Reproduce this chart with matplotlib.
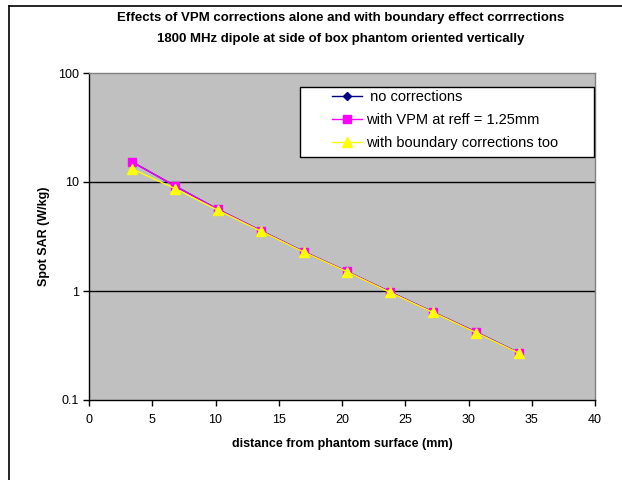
import matplotlib
matplotlib.use("Agg")
import matplotlib.pyplot as plt
from matplotlib.lines import Line2D
from matplotlib.patches import Rectangle
from matplotlib.ticker import FixedLocator, NullLocator, FuncFormatter

plt.rcParams['font.family'] = ['Liberation Sans', 'DejaVu Sans']

# distance from phantom surface (mm)
distance = [3.4, 6.8, 10.2, 13.6, 17.0, 20.4, 23.8, 27.2, 30.6, 34.0]
# spot SAR (W/kg)
sar_none = [15.3, 9.2, 5.6, 3.57, 2.29, 1.51, 0.98, 0.64, 0.42, 0.27]
sar_vpm = [15.3, 9.2, 5.6, 3.57, 2.29, 1.51, 0.98, 0.64, 0.42, 0.27]
sar_boundary = [13.2, 8.7, 5.5, 3.53, 2.27, 1.50, 0.97, 0.635, 0.415, 0.268]

series_labels = [" no corrections", "with VPM at reff = 1.25mm",
                 "with boundary corrections too"]
x_ticks = [0, 5, 10, 15, 20, 25, 30, 35, 40]
y_ticks = [0.1, 1, 10, 100]

W, H = 622, 480
fig = plt.figure(figsize=(W / 100, H / 100), dpi=100)
fig.patch.set_facecolor("white")


def fx(px):
    return px / W


def fy(py):
    return 1 - py / H


# outer frame (left and top edges)
fig.add_artist(Line2D([fx(9), fx(9)], [0, fy(6)], color="black", lw=1.2))
fig.add_artist(Line2D([fx(9), 1], [fy(6), fy(6)], color="black", lw=1.2))

ax = fig.add_axes([fx(89), fy(400), fx(595) - fx(89), fy(73) - fy(400)])
ax.set_facecolor("#c0c0c0")
ax.set_yscale("log")
ax.set_xlim(0, 40)
ax.set_ylim(0.1, 100)

for y in [1, 10]:
    ax.axhline(y, color="black", lw=1.0, zorder=1)

ax.plot(distance, sar_none, color="#000080", marker="D", ms=4.5, lw=1.0,
        label=series_labels[0], zorder=3)
ax.plot(distance, sar_vpm, color="#ff00ff", marker="s", ms=6, lw=1.0,
        label=series_labels[1], zorder=4)
ax.plot(distance, sar_boundary, color="#ffff00", marker="^", ms=7, lw=1.0,
        label=series_labels[2], zorder=5)

for side in ["top", "right"]:
    ax.spines[side].set_color("#808080")
    ax.spines[side].set_linewidth(1.0)
for side in ["left", "bottom"]:
    ax.spines[side].set_color("black")
    ax.spines[side].set_linewidth(1.0)

ax.xaxis.set_major_locator(FixedLocator(x_ticks))
ax.yaxis.set_major_locator(FixedLocator(y_ticks))
ax.yaxis.set_minor_locator(NullLocator())
ax.yaxis.set_major_formatter(FuncFormatter(lambda v, p: f"{v:g}"))
ax.tick_params(axis="x", direction="out", length=4, width=1,
               labelsize=9, pad=6, color="black")
ax.tick_params(axis="y", direction="out", length=4, width=1,
               labelsize=9, pad=3, color="black")

ax.set_xlabel("distance from phantom surface (mm)", fontsize=9,
              fontweight="bold", labelpad=9)
ax.set_ylabel("Spot SAR (W/kg)", fontsize=9, fontweight="bold", labelpad=6)

fig.text(0.548, fy(18),
         "Effects of VPM corrections alone and with boundary effect corrrections",
         ha="center", va="center", fontsize=9.5, fontweight="bold")
fig.text(0.548, fy(39),
         "1800 MHz dipole at side of box phantom oriented vertically",
         ha="center", va="center", fontsize=9.5, fontweight="bold")

# legend box
fig.add_artist(Rectangle((fx(300), fy(157)), fx(594) - fx(300), fy(87) - fy(157),
                         transform=fig.transFigure, facecolor="white",
                         edgecolor="black", lw=1.0, zorder=10))
leg = fig.legend(loc="upper left", bbox_to_anchor=(fx(332), fy(90)),
                 bbox_transform=fig.transFigure,
                 fontsize=10.5, frameon=False, borderpad=0, borderaxespad=0,
                 handlelength=2.05, labelspacing=0.62, handletextpad=0.25)
leg.set_zorder(11)

fig.savefig("out.png", dpi=100)
